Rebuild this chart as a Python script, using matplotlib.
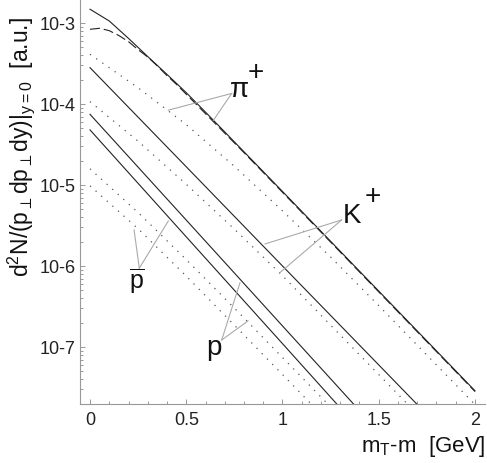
import numpy as np
import matplotlib
matplotlib.use("Agg")
import matplotlib.pyplot as plt
from matplotlib.ticker import LogLocator, MultipleLocator, NullFormatter

plt.rcParams['font.family'] = ['Liberation Sans', 'DejaVu Sans']
plt.rcParams['mathtext.fontset'] = 'custom'
plt.rcParams['mathtext.rm'] = 'Liberation Sans'
plt.rcParams['mathtext.it'] = 'Liberation Sans'
plt.rcParams['mathtext.bf'] = 'Liberation Sans:bold'

# pi+ : solid and dashed curves (spectra vs m_T - m in GeV)
pi_x = [0, 0.1, 0.2, 0.3, 0.4, 0.5, 0.6, 0.8, 1.0, 1.5, 2.0]
pi_solid = [1.479e-3, 1.059e-3, 6.46e-4, 3.85e-4, 2.32e-4, 1.38e-4,
            7.94e-5, 2.57e-5, 8.32e-6, 4.90e-7, 2.88e-8]
pi_dash_x = [0, 0.05, 0.1, 0.15, 0.2, 0.25, 0.3, 0.35, 0.4, 0.45, 0.5,
             0.6, 0.8, 1.0, 1.5, 2.0]
pi_dash = [8.36e-4, 8.61e-4, 8.04e-4, 7.00e-4, 5.89e-4, 4.68e-4, 3.80e-4,
           2.95e-4, 2.24e-4, 1.74e-4, 1.32e-4, 7.59e-5, 2.51e-5, 8.13e-6,
           4.79e-7, 2.82e-8]

# dotted curves
dot_x = [0, 0.25, 0.5, 0.75, 1.0, 1.25, 1.5, 1.75, 2.0]
pi_dot = [4.11e-4, 1.585e-4, 5.56e-5, 1.70e-5, 4.79e-6, 1.29e-6, 3.24e-7,
          7.94e-8, 1.95e-8]
k_dot = [1.07e-4, 3.47e-5, 1.02e-5, 2.85e-6, 7.59e-7, 1.86e-7, 4.57e-8,
         1.12e-8]
p_dot = [1.585e-5, 4.57e-6, 1.20e-6, 3.02e-7, 7.41e-8, 1.82e-8]
pbar_dot = [9.77e-6, 2.88e-6, 7.50e-7, 1.86e-7, 4.57e-8, 1.12e-8]

# straight solid curves
lin_x = [0, 0.5, 1.0, 1.5, 2.0]
k_solid = [2.81e-4, 1.68e-5, 1.00e-6, 6.01e-8, 3.60e-9]
p_solid = [7.46e-5, 3.69e-6, 1.82e-7, 9.0e-9]
pbar_solid = [4.79e-5, 2.29e-6, 1.10e-7, 5.25e-9]

yticks = [1e-7, 1e-6, 1e-5, 1e-4, 1e-3]
ytick_labels = ['10-7', '10-6', '10-5', '10-4', '10-3']
xticks = [0, 0.5, 1, 1.5, 2]
xtick_labels = ['0', '0.5', '1', '1.5', '2']

fig = plt.figure(figsize=(4.87, 4.63), dpi=100)
ax = fig.add_axes([80 / 487, 59.3 / 463, 405 / 487, 403.7 / 463])

solid_kw = dict(color='#222222', lw=0.8)
dot_kw = dict(color='#555555', lw=0.9, linestyle=(0, (1, 5)))

ax.plot(pi_x, pi_solid, **solid_kw)
ax.plot(pi_dash_x, pi_dash, color='#222222', lw=0.8, linestyle=(0, (9, 3.5)))
ax.plot(lin_x, k_solid, **solid_kw)
ax.plot(lin_x[:len(p_solid)], p_solid, **solid_kw)
ax.plot(lin_x[:len(pbar_solid)], pbar_solid, **solid_kw)
ax.plot(dot_x, pi_dot, **dot_kw)
ax.plot(dot_x[:len(k_dot)], k_dot, **dot_kw)
ax.plot(dot_x[:len(p_dot)], p_dot, **dot_kw)
ax.plot(dot_x[:len(pbar_dot)], pbar_dot, **dot_kw)

ax.set_yscale('log')
ax.set_xlim(-0.052, 2.052)
ax.set_ylim(10 ** -7.70, 10 ** -2.716)

for s in ['top', 'right']:
    ax.spines[s].set_visible(False)
for s in ['left', 'bottom']:
    ax.spines[s].set_color('#999999')
    ax.spines[s].set_linewidth(0.8)

ax.set_yticks(yticks, ytick_labels)
ax.yaxis.set_minor_locator(LogLocator(base=10, subs=np.arange(2, 10)))
ax.yaxis.set_minor_formatter(NullFormatter())
ax.set_xticks(xticks, xtick_labels)
ax.xaxis.set_minor_locator(MultipleLocator(0.1))
ax.tick_params(which='both', direction='in', color='#999999', width=0.7,
               labelsize=13, labelcolor='#222222')
ax.tick_params(which='major', length=3.5)
ax.tick_params(which='minor', length=2.2)
ax.tick_params(axis='x', pad=6)
ax.tick_params(axis='y', pad=3)

# pointer lines for the particle labels
ptr_kw = dict(color='#aaaaaa', lw=0.8)
pointers = [
    ((0.736, 1.35e-4), [(0.407, 8.4e-5), (0.641, 6.3e-5)]),
    ((1.307, 3.7e-6), [(0.909, 1.87e-6), (0.987, 8.3e-7)]),
    ((0.256, 9.4e-7), [(0.229, 2.78e-6), (0.407, 3.6e-6)]),
    ((0.684, 1.22e-7), [(0.779, 6.2e-7), (0.821, 2.1e-7)]),
]
for (hx, hy), tips in pointers:
    for tx, ty in tips:
        ax.plot([hx, tx], [hy, ty], **ptr_kw)

lab_kw = dict(fontsize=20, color='#111111')
ax.text(0.725, 1.23e-4, 'π', ha='left', va='baseline', **lab_kw)
ax.text(0.861, 2.39e-4, '+', ha='center', va='center', **lab_kw)
ax.text(1.315, 3.40e-6, 'K', ha='left', va='baseline', **lab_kw)
ax.text(1.4675, 7.21e-6, '+', ha='center', va='center', **lab_kw)
ax.text(0.244, 5.2e-7, r'$\overline{\mathrm{p}}$', ha='center', va='baseline',
        fontsize=18, color='#111111')
ax.text(0.644, 8.07e-8, 'p', ha='center', va='baseline', **lab_kw)

fig.text(21 / 487, 1 - 147 / 463,
         r'd$^2$N/(p$_\perp$dp$_\perp$dy)$|_{y=0}$  [a.u.]',
         rotation=90, ha='center', va='center', fontsize=16.5, color='#111111')
fig.text(485 / 487, 1 - 452 / 463, r'm$_\mathrm{T}$-m  [GeV]',
         ha='right', va='baseline', fontsize=16, color='#111111')

fig.savefig('out.png', dpi=100)
